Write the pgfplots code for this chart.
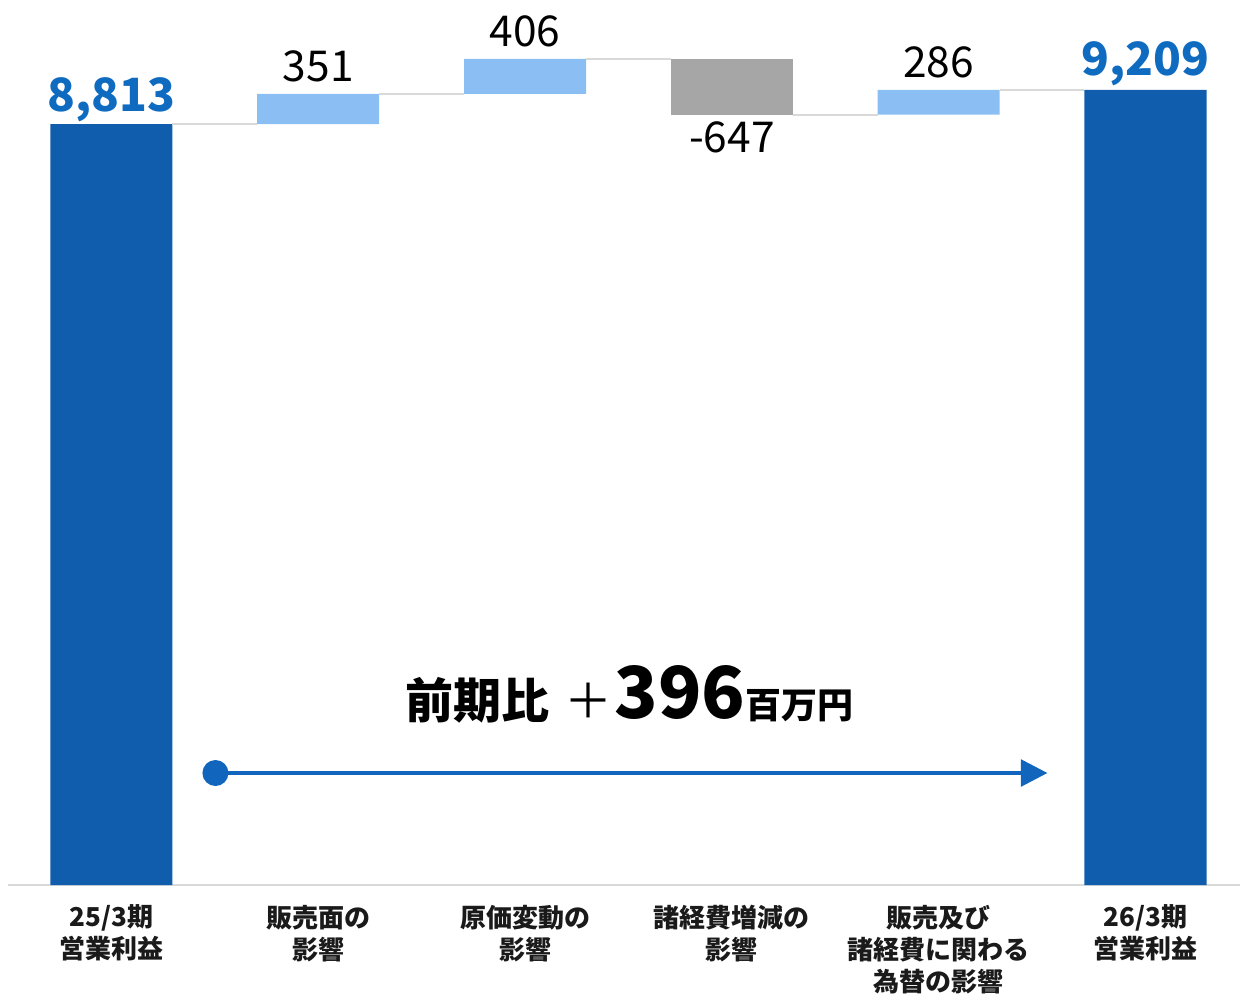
\documentclass[border=0pt]{standalone}
\usepackage{fontspec}
\setmainfont{Noto Sans CJK JP}
\usepackage{pgfplots}
\pgfplotsset{compat=1.18}
\usetikzlibrary{arrows.meta}
\definecolor{cDark}{HTML}{115DAD}
\definecolor{cLight}{HTML}{8BBEF3}
\definecolor{cGray}{HTML}{A6A6A6}
\definecolor{cBlueText}{HTML}{0F6BBF}
\definecolor{cConn}{HTML}{D9D9D9}
\definecolor{cArrow}{HTML}{1265BC}
\definecolor{cLabel}{HTML}{1A1A1A}
\begin{document}
\begin{tikzpicture}[x=1pt,y=1pt]
\useasboundingbox (0,0) rectangle (744,597);
\pgfplotsset{
  common/.style={
    scale only axis,
    at={(4.8pt,66pt)}, anchor=south west,
    width=739.2pt, height=531pt,
    xmin=-0.5, xmax=5.457,
    ymin=0, ymax=10251,
  }
}
\begin{axis}[common,
  ybar stacked, bar width=0.59,
  axis x line=bottom, axis y line=none,
  x axis line style={-, color=cConn, line width=1.2pt},
  xtick={0,1,2,3,4,5},
  major tick length=0pt,
  xticklabels={{25/3期\\営業利益},{販売面の\\影響},{原価変動の\\影響},{諸経費増減の\\影響},{販売及び\\諸経費に関わる\\為替の影響},{26/3期\\営業利益}},
  xticklabel style={align=center, font=\bfseries\fontsize{15.6}{19.2}\selectfont, text=cLabel, yshift=-8.4pt},
  ytick=\empty,
]
\addplot[draw=none, fill=none] coordinates {(0,0)(1,8813)(2,9164)(3,8923)(4,8923)(5,0)};
\addplot[draw=none, fill=cDark] coordinates {(0,8813)(1,0)(2,0)(3,0)(4,0)(5,9209)};
\addplot[draw=none, fill=cLight] coordinates {(0,0)(1,351)(2,406)(3,0)(4,286)(5,0)};
\addplot[draw=none, fill=cGray] coordinates {(0,0)(1,0)(2,0)(3,647)(4,0)(5,0)};
\end{axis}
\begin{axis}[common, hide axis, clip=false]
\addplot[cConn, line width=1.2pt] coordinates {(0.295,8813)(0.705,8813)};
\addplot[cConn, line width=1.2pt] coordinates {(1.295,9164)(1.705,9164)};
\addplot[cConn, line width=1.2pt] coordinates {(2.295,9570)(2.705,9570)};
\addplot[cConn, line width=1.2pt] coordinates {(3.295,8923)(3.705,8923)};
\addplot[cConn, line width=1.2pt] coordinates {(4.295,9209)(4.705,9209)};
% value labels
\node[anchor=base, inner sep=0, yshift=7.8pt, text=cBlueText, font=\bfseries\fontsize{27.5}{28}\selectfont] at (axis cs:0,8813) {8,813};
\node[anchor=base, inner sep=0, yshift=8.4pt, text=cBlueText, font=\bfseries\fontsize{27.5}{28}\selectfont] at (axis cs:5,9209) {9,209};
\node[anchor=base, inner sep=0, yshift=7.2pt, font=\fontsize{25.5}{25.5}\selectfont] at (axis cs:1,9164) {351};
\node[anchor=base, inner sep=0, yshift=7.2pt, font=\fontsize{25.5}{25.5}\selectfont] at (axis cs:2,9570) {406};
\node[anchor=base, inner sep=0, yshift=-22.8pt, font=\fontsize{25.5}{25.5}\selectfont] at (axis cs:3,8923) {-647};
\node[anchor=base, inner sep=0, yshift=7.2pt, font=\fontsize{25.5}{25.5}\selectfont] at (axis cs:4,9209) {286};
% annotation
\node[anchor=base west, inner sep=0] at (axis cs:1.4217,1923) {{\bfseries\fontsize{28.8}{30}\selectfont 前期比}\hspace{9pt}{\fontsize{28.8}{30}\selectfont ＋}\hspace{1pt}{\bfseries\fontsize{43}{44}\selectfont 396}{\bfseries\fontsize{21.6}{22}\selectfont 百万円}};
\draw[cArrow, line width=2.4pt, -{Triangle[length=16pt,width=16pt]}] (axis cs:0.503,1297) -- (axis cs:4.526,1297);
\fill[cArrow] (axis cs:0.503,1297) circle[radius=7.8pt];
\end{axis}
\end{tikzpicture}
\end{document}
